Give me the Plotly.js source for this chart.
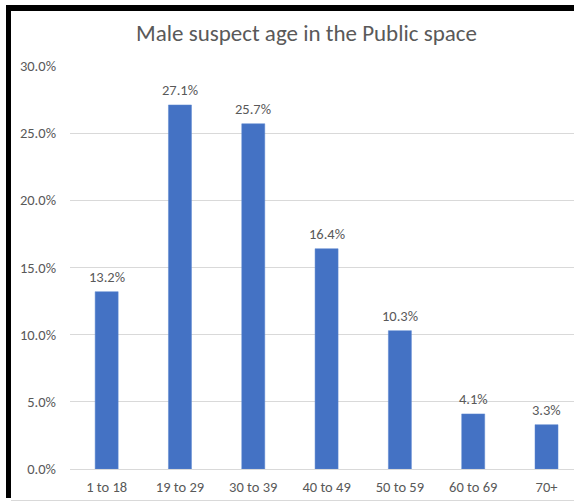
<!DOCTYPE html>
<html>
<head>
<meta charset="utf-8">
<script src="https://cdn.plot.ly/plotly-3.0.1.min.js"></script>
<style>
  html, body { margin: 0; padding: 0; background: #ffffff; }
  #wrap { position: relative; width: 574px; height: 504px; overflow: hidden; }
  #chart { position: absolute; left: 0; top: 0; width: 574px; height: 504px; }
  .frame-left { position: absolute; left: 6px; top: 5px; width: 5px; height: 493px; background: #000; }
  .frame-top { position: absolute; left: 6px; top: 5px; width: 568px; height: 6px; background: #000; }
  .frame-bottom { position: absolute; left: 11px; top: 500px; width: 563px; height: 1px; background: #d9d9d9; }
</style>
</head>
<body>
<div id="wrap">
  <div id="chart"></div>
  <div class="frame-left"></div>
  <div class="frame-top"></div>
  <div class="frame-bottom"></div>
</div>
<script>
// Share of male suspects by age band (percent)
const ageBands = ["1 to 18", "19 to 29", "30 to 39", "40 to 49", "50 to 59", "60 to 69", "70+"];
const sharePct = [13.2, 27.1, 25.7, 16.4, 10.3, 4.1, 3.3];
const yTickVals = [0, 5, 10, 15, 20, 25, 30];

const FONT = "Carlito, Calibri, 'Open Sans', sans-serif";
const GREY = "#595959";
const TEXT_SIZE = 14.5;

const trace = {
  type: "bar",
  x: ageBands,
  y: sharePct,
  marker: { color: "#4472C4", line: { color: "#5b86d0", width: 0.5 } },
  hoverinfo: "x+y"
};

// value labels above each bar
const labels = ageBands.map((band, i) => ({
  x: band,
  y: sharePct[i],
  xref: "x",
  yref: "y",
  text: sharePct[i].toFixed(1) + "%",
  showarrow: false,
  yanchor: "bottom",
  yshift: 4,
  font: { family: FONT, size: TEXT_SIZE, color: GREY }
}));

const layout = {
  width: 574,
  height: 504,
  margin: { l: 70, r: 0, t: 66, b: 35 },
  paper_bgcolor: "#ffffff",
  plot_bgcolor: "#ffffff",
  bargap: 0.686,
  showlegend: false,
  title: {
    text: "Male suspect age in the Public space",
    font: { family: FONT, size: 23, color: GREY },
    xref: "container",
    x: 306.5 / 574,
    xanchor: "center",
    yref: "container",
    y: 1 - 33 / 504,
    yanchor: "middle"
  },
  xaxis: {
    type: "category",
    range: [-0.5, 6.375],
    showgrid: false,
    showline: false,
    zeroline: false,
    ticks: "",
    ticklabelstandoff: 7,
    tickfont: { family: FONT, size: TEXT_SIZE, color: GREY },
    fixedrange: true
  },
  yaxis: {
    range: [0, 30],
    tickvals: yTickVals,
    ticktext: yTickVals.map(v => v.toFixed(1) + "%"),
    showgrid: true,
    gridcolor: "#d9d9d9",
    gridwidth: 1,
    zeroline: true,
    zerolinecolor: "#d9d9d9",
    zerolinewidth: 1,
    showline: false,
    ticks: "",
    ticklabelstandoff: 13,
    tickfont: { family: FONT, size: TEXT_SIZE, color: GREY },
    fixedrange: true
  },
  annotations: labels
};

Plotly.newPlot("chart", [trace], layout, { displayModeBar: false, staticPlot: true });
</script>
</body>
</html>
